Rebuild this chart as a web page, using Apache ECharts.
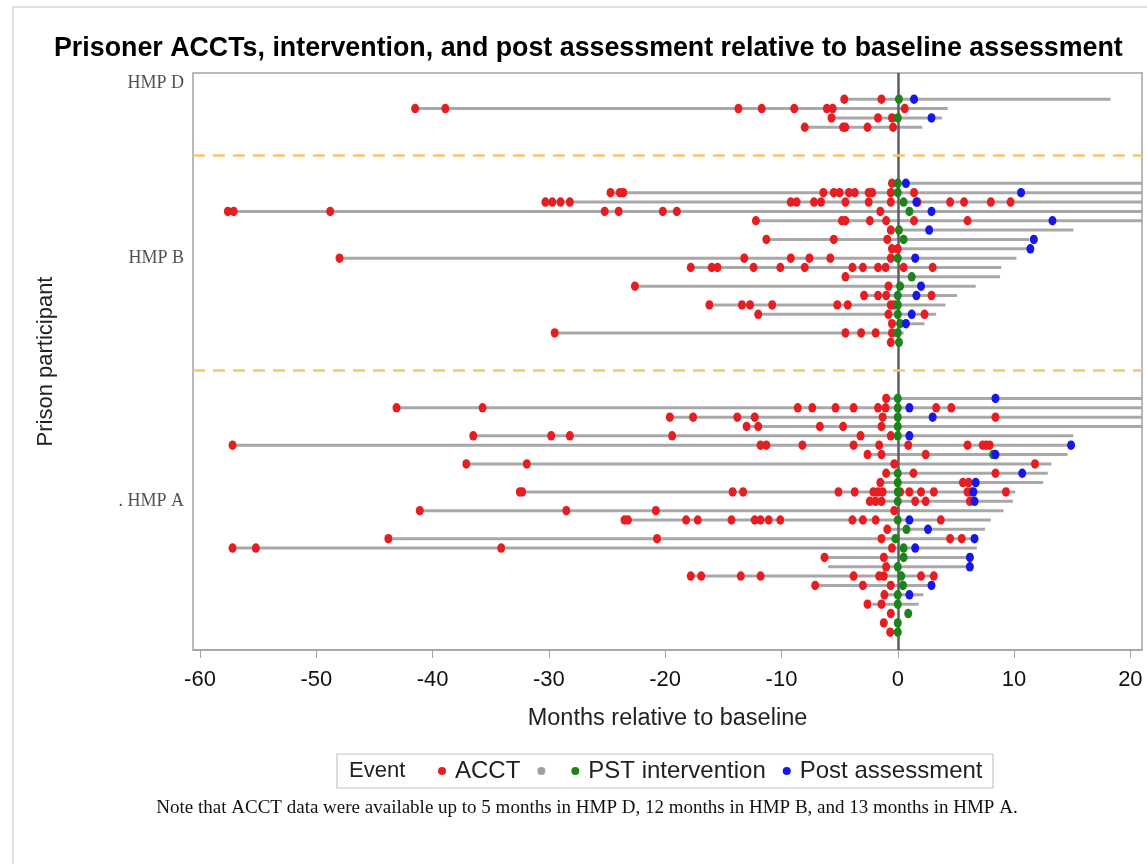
<!DOCTYPE html>
<html><head><meta charset="utf-8">
<script src="https://cdn.jsdelivr.net/npm/echarts@6/dist/echarts.min.js"></script>
<style>html,body{margin:0;padding:0;background:#fff}#c{width:1147px;height:864px}</style>
</head><body><div id="c"></div>
<script>
// ---- data ----
const groupLabels = ['HMP D', 'HMP B', '. HMP A'];
const groupLabelRows = [-1.75, 17, 43];
const separatorRows = [6, 29];
const xTicks = [-60, -50, -40, -30, -20, -10, 0, 10, 20];

// participant rows (y positions, top to bottom)
const rowIndex = [0, 1, 2, 3,
  9, 10, 11, 12, 13, 14, 15, 16, 17, 18, 19, 20, 21, 22, 23, 24, 25, 26,
  32, 33, 34, 35, 36, 37, 38, 39, 40, 41, 42, 43, 44, 45, 46, 47, 48, 49, 50, 51, 52, 53, 54, 55, 56, 57];

// follow-up line start / end (months)
const lineStart = [-4.6, -41.5, -5.7, -8.0,
  -0.5, -24.7, -30.3, -57.6, -12.2, -0.6, -11.3, -0.5, -48.0, -17.8, -4.5, -22.6, -2.9, -16.2, -12.0, -0.5, -29.5, null,
  -1.0, -43.1, -19.6, -13.0, -36.5, -57.2, -2.6, -37.1, -1.0, -1.5, -32.5, -2.4, -41.1, -23.5, -0.9, -43.8, -57.2, -6.3, -6.0, -17.8, -7.1, -1.15, -2.2, null, null, null];
const lineEnd = [18.3, 4.3, 3.8, 2.1,
  25, 25, 25, 25, 25, 15.1, 11.3, 11.2, 10.2, 8.9, 8.8, 6.7, 5.1, 4.1, 3.3, 2.3, 0.5, null,
  25, 25, 25, 25, 15.1, 14.8, 14.6, 13.2, 12.9, 12.5, 10.1, 9.9, 9.1, 8.0, 7.5, 6.9, 6.8, 6.2, 6.2, 3.1, 2.9, 2.2, 1.8, null, null, null];

// ACCT events (months relative to baseline)
const acctMonths = [
  [-4.6, -1.4],
  [-41.5, -38.9, -13.7, -11.7, -8.9, -6.1, -5.6, 0.6],
  [-5.7, -1.7, -0.5],
  [-8.0, -4.7, -4.5, -2.6, -0.4],
  [-0.5],
  [-24.7, -23.9, -23.6, -6.4, -5.5, -5.0, -4.2, -3.7, -2.5, -2.2, -0.6, 1.4],
  [-30.3, -29.7, -29.0, -28.2, -9.2, -8.7, -7.2, -6.6, -4.5, -2.5, -0.6, 1.7, 4.5, 5.7, 8.0, 9.7],
  [-57.6, -57.1, -48.8, -25.2, -24.0, -20.2, -19.0, -1.5],
  [-12.2, -4.8, -4.5, -2.4, -1.0, 1.4, 6.0],
  [-0.6],
  [-11.3, -5.5, -0.9],
  [-0.5, 0.0],
  [-48.0, -13.2, -9.2, -7.6, -5.8, -0.6],
  [-17.8, -16.0, -15.5, -12.4, -10.1, -8.0, -3.9, -3.0, -1.7, -1.05, 0.5, 3.0],
  [-4.5],
  [-22.6, -0.8],
  [-2.9, -1.7, -1.0, 2.9],
  [-16.2, -13.4, -12.7, -10.8, -5.2, -4.3, -0.6, -0.3],
  [-12.0, -0.8, 2.3],
  [-0.5],
  [-29.5, -4.5, -3.15, -1.9, -0.5],
  [-0.6],
  [-1.0],
  [-43.1, -35.7, -8.6, -7.35, -5.35, -3.8, -1.7, -1.05, 3.3, 4.6],
  [-19.6, -17.6, -13.8, -12.3, -1.3, 8.4],
  [-13.0, -12.0, -6.7, -4.7, -1.4],
  [-36.5, -29.8, -28.2, -19.4, -3.2, -0.6],
  [-57.2, -11.8, -11.3, -8.2, -3.8, -1.6, 0.9, 6.0, 7.3, 7.6, 7.9],
  [-2.6, -1.4, 2.4],
  [-37.1, -31.9, -0.3, 11.8],
  [-1.0, 1.35, 8.4],
  [-1.5, 5.6, 6.1],
  [-32.5, -32.3, -14.2, -13.3, -5.1, -3.7, -2.1, -1.7, -1.3, 0.2, 1.0, 2.0, 3.1, 6.0, 6.3, 9.3],
  [-2.4, -1.9, -1.4, 1.5, 2.4, 6.2],
  [-41.1, -28.5, -20.8, -0.3],
  [-23.5, -23.2, -18.2, -17.2, -14.3, -12.3, -11.8, -11.1, -10.1, -3.9, -3.0, -1.9, 3.7],
  [-0.9],
  [-43.8, -20.7, -1.4, 4.5, 5.5],
  [-57.2, -55.2, -34.1, -0.5],
  [-6.3, -1.2],
  [-1.0],
  [-17.8, -16.9, -13.5, -11.8, -3.8, -1.6, -1.2, 2.0, 3.1],
  [-7.1, -3.0, -0.6],
  [-1.15],
  [-2.6, -1.4],
  [-0.6],
  [-1.2],
  [-0.65]
];

// PST intervention month per row
const pstMonths = [0.1, null, 0, null,
  0, 0, 0.5, 1.0, null, 0.1, 0.5, null, 0, null, 1.2, 0.2, 0, 0, 0, 0.2, 0, 0.1,
  0, 0, 0, 0, 0, null, 8.2, null, 0, 0, 0, 0, null, 0, 0.75, -0.2, 0.5, 0.5, 0, 0.3, 0.45, 0, 0, 0.9, 0, 0];

// Post assessment month per row
const postMonths = [1.4, null, 2.9, null,
  0.7, 10.6, 1.6, 2.9, 13.3, 2.7, 11.7, 11.4, 1.5, null, null, 2.0, 1.6, null, 1.2, 0.7, null, null,
  8.4, 1.0, 3.0, null, 1.0, 14.9, 8.4, null, 10.7, 6.7, 6.5, 6.6, null, 1.0, 2.6, 6.6, 1.5, 6.2, 6.2, null, 2.9, 1.0, null, null, null, null];

// ---- build series data ----
const lineData = [];
rowIndex.forEach((r, i) => { if (lineStart[i] !== null) lineData.push([lineStart[i], lineEnd[i], r]); });
const acctData = [];
rowIndex.forEach((r, i) => acctMonths[i].forEach(v => acctData.push([v, r])));
const pstData = [];
rowIndex.forEach((r, i) => { if (pstMonths[i] !== null) pstData.push([pstMonths[i], r]); });
const postData = [];
rowIndex.forEach((r, i) => { if (postMonths[i] !== null) postData.push([postMonths[i], r]); });
const X_MIN = -60.6, X_MAX = 21.0;
const labelData = groupLabelRows.map(r => [X_MIN, r]);

const FONT = 'Liberation Sans';
const GREY_NAME = '\u200b';
const chart = echarts.init(document.getElementById('c'), null, {renderer: 'canvas'});
const dot = [8, 9.5];
chart.setOption({
  animation: false,
  backgroundColor: '#fff',
  title: {
    text: 'Prisoner ACCTs, intervention, and post assessment relative to baseline assessment',
    left: 49, top: 30,
    textStyle: {fontFamily: FONT, fontSize: 26.8, fontWeight: 'bold', color: '#000'}
  },
  grid: {show: true, left: 193, top: 73, right: 5, bottom: 214, borderColor: '#a3a3a3', borderWidth: 1.5, backgroundColor: 'transparent'},
  xAxis: {
    type: 'value', min: X_MIN, max: X_MAX,
    name: 'Months relative to baseline', nameLocation: 'middle', nameGap: 57,
    nameTextStyle: {fontFamily: FONT, fontSize: 23.5, color: '#222'},
    axisLine: {show: true, onZero: false, lineStyle: {color: '#a3a3a3', width: 1.5}},
    axisTick: {show: true, customValues: xTicks, length: 8, lineStyle: {color: '#a3a3a3'}},
    axisLabel: {customValues: xTicks, fontFamily: FONT, fontSize: 22, color: '#111', margin: 19},
    splitLine: {show: false}
  },
  yAxis: {
    type: 'value', inverse: true, min: -2.8, max: 58.9,
    name: 'Prison participant', nameLocation: 'middle', nameGap: 136,
    nameTextStyle: {fontFamily: FONT, fontSize: 22, color: '#222'},
    axisLine: {show: false}, axisTick: {show: false}, axisLabel: {show: false}, splitLine: {show: false}
  },
  legend: {
    left: 438, top: 759, itemWidth: 16, itemHeight: 8, itemGap: 17, padding: 0,
    selectedMode: false,
    textStyle: {fontFamily: FONT, fontSize: 24, color: '#222', lineHeight: 24},
    data: [
      {name: 'ACCT', icon: 'circle'},
      {name: GREY_NAME, icon: 'circle'},
      {name: 'PST intervention', icon: 'circle'},
      {name: 'Post assessment', icon: 'circle'}
    ]
  },
  graphic: [
    {type: 'line', shape: {x1: 13, y1: 7, x2: 13, y2: 864}, style: {stroke: '#d6d6d6', lineWidth: 1.5}, silent: true},
    {type: 'line', shape: {x1: 13, y1: 7, x2: 1147, y2: 7}, style: {stroke: '#d6d6d6', lineWidth: 1.5}, silent: true},
    {type: 'rect', shape: {x: 337, y: 754, width: 656, height: 34}, style: {fill: 'none', stroke: '#c4c4c4', lineWidth: 1.2}, silent: true},
    {type: 'text', x: 349, y: 771, style: {text: 'Event', font: '22px "Liberation Sans"', fill: '#222', verticalAlign: 'middle'}, silent: true},
    {type: 'text', x: 587, y: 808, style: {text: 'Note that ACCT data were available up to 5 months in HMP D, 12 months in HMP B, and 13 months in HMP A.', font: '19px "Liberation Serif"', fill: '#111', align: 'center', verticalAlign: 'middle'}, silent: true}
  ],
  series: [
    {
      name: GREY_NAME, type: 'custom', z: 2,
      itemStyle: {color: '#a0a0a0'},
      encode: {x: [0, 1], y: 2},
      data: lineData,
      renderItem: function (params, api) {
        const y = api.value(2);
        const s = api.coord([api.value(0), y]);
        const e = api.coord([api.value(1), y]);
        const cs = params.coordSys;
        const xr = cs.x + cs.width;
        return {type: 'line', shape: {x1: s[0], y1: s[1], x2: Math.min(e[0], xr), y2: e[1]},
          style: {stroke: '#a8a8a8', lineWidth: 3}};
      },
      markLine: {
        silent: true, symbol: 'none', label: {show: false}, z: 3,
        data: [
          {xAxis: 0, lineStyle: {color: '#5e5e5e', width: 2.5, type: 'solid'}},
          {yAxis: separatorRows[0], lineStyle: {color: '#f7c56e', width: 2.5, type: [12, 8]}},
          {yAxis: separatorRows[1], lineStyle: {color: '#f7c56e', width: 2.5, type: [12, 8]}}
        ]
      }
    },
    {name: 'ACCT', type: 'scatter', z: 4, symbol: 'circle', symbolSize: dot, itemStyle: {color: '#e61e22', opacity: 1}, data: acctData},
    {name: 'PST intervention', type: 'scatter', z: 5, symbol: 'circle', symbolSize: dot, itemStyle: {color: '#1b841b', opacity: 1}, data: pstData},
    {name: 'Post assessment', type: 'scatter', z: 6, symbol: 'circle', symbolSize: dot, itemStyle: {color: '#1717ea', opacity: 1}, data: postData},
    {
      name: 'groupLabels', type: 'scatter', z: 7, symbolSize: 0, silent: true, clip: false,
      data: labelData,
      label: {
        show: true, position: 'left', distance: 9,
        formatter: p => groupLabels[p.dataIndex],
        fontFamily: 'Liberation Serif', fontSize: 18, color: '#262626'
      }
    }
  ]
});
</script>
</body></html>
